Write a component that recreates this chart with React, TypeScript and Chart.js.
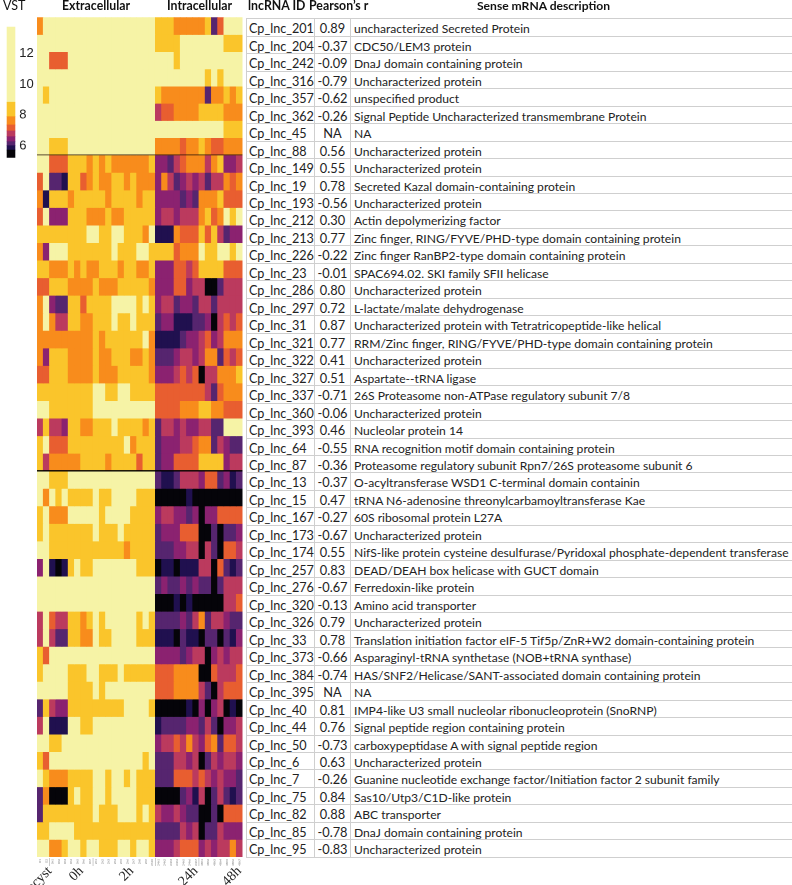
import React, { useEffect, useRef } from "react";
import { Chart, registerables } from "chart.js";

Chart.register(...registerables);

const lncIds = ["Cp_lnc_201","Cp_lnc_204","Cp_lnc_242","Cp_lnc_316","Cp_lnc_357","Cp_lnc_362","Cp_lnc_45","Cp_lnc_88","Cp_lnc_149","Cp_lnc_19","Cp_lnc_193","Cp_lnc_212","Cp_lnc_213","Cp_lnc_226","Cp_lnc_23","Cp_lnc_286","Cp_lnc_297","Cp_lnc_31","Cp_lnc_321","Cp_lnc_322","Cp_lnc_327","Cp_lnc_337","Cp_lnc_360","Cp_lnc_393","Cp_lnc_64","Cp_lnc_87","Cp_lnc_13","Cp_lnc_15","Cp_lnc_167","Cp_lnc_173","Cp_lnc_174","Cp_lnc_257","Cp_lnc_276","Cp_lnc_320","Cp_lnc_326","Cp_lnc_33","Cp_lnc_373","Cp_lnc_384","Cp_lnc_395","Cp_lnc_40","Cp_lnc_44","Cp_lnc_50","Cp_lnc_6","Cp_lnc_7","Cp_lnc_75","Cp_lnc_82","Cp_lnc_85","Cp_lnc_95"];
const pearson = ["0.89","-0.37","-0.09","-0.79","-0.62","-0.26","NA","0.56","0.55","0.78","-0.56","0.30","0.77","-0.22","-0.01","0.80","0.72","0.87","0.77","0.41","0.51","-0.71","-0.06","0.46","-0.55","-0.36","-0.37","0.47","-0.27","-0.67","0.55","0.83","-0.67","-0.13","0.79","0.78","-0.66","-0.74","NA","0.81","0.76","-0.73","0.63","-0.26","0.84","0.88","-0.78","-0.83"];
const descriptions = ["uncharacterized Secreted Protein","CDC50/LEM3 protein","DnaJ domain containing protein","Uncharacterized protein","unspecified product","Signal Peptide Uncharacterized transmembrane Protein","NA","Uncharacterized protein","Uncharacterized protein","Secreted Kazal domain-containing protein","Uncharacterized protein","Actin depolymerizing factor","Zinc finger, RING/FYVE/PHD-type domain containing protein","Zinc finger RanBP2-type domain containing protein","SPAC694.02. SKI family SFII helicase","Uncharacterized protein","L-lactate/malate dehydrogenase","Uncharacterized protein with Tetratricopeptide-like helical","RRM/Zinc finger, RING/FYVE/PHD-type domain containing protein","Uncharacterized protein","Aspartate--tRNA ligase","26S Proteasome non-ATPase regulatory subunit 7/8","Uncharacterized protein","Nucleolar protein 14","RNA recognition motif domain containing protein","Proteasome regulatory subunit Rpn7/26S proteasome subunit 6","O-acyltransferase WSD1 C-terminal domain containin","tRNA N6-adenosine threonylcarbamoyltransferase Kae","60S ribosomal protein L27A","Uncharacterized protein","NifS-like protein cysteine desulfurase/Pyridoxal phosphate-dependent transferase","DEAD/DEAH box helicase with GUCT domain","Ferredoxin-like protein","Amino acid transporter","Uncharacterized protein","Translation initiation factor eIF-5 Tif5p/ZnR+W2 domain-containing protein","Asparaginyl-tRNA synthetase (NOB+tRNA synthase)","HAS/SNF2/Helicase/SANT-associated domain containing protein","NA","IMP4-like U3 small nucleolar ribonucleoprotein (SnoRNP)","Signal peptide region containing protein","carboxypeptidase A with signal peptide region","Uncharacterized protein","Guanine nucleotide exchange factor/Initiation factor 2 subunit family","Sas10/Utp3/C1D-like protein","ABC transporter","DnaJ domain containing protein","Uncharacterized protein"];

// one digit per cell: colour bin of the VST value, 0 = lowest, 8 = highest
const block1 = [
  "6888888888888888888 77766666725888",
  "8888888888888888888 77778888888777",
  "8855588888888888888 88878888888888",
  "8888888888888888888 88888888787888",
  "8788888888888888888 76666666266767",
  "8888888888888888888 45566667777666",
  "8888888888888888888 88888888888777",
  "8877788888888888888 66665667655666",
];
const block2 = [
  "8855577767676666667 33245666467334",
  "5822177567667767666 36423434244656",
  "6177767777767777677 33332326667555",
  "5833377766676677777 34434446756878",
  "7777777788778877768 11165557574233",
  "6388877777778777887 77756668778878",
  "7766676766777677667 33355457777555",
  "5577766667666777776 33355344002444",
  "6832277577778888787 34423324424444",
  "6864477667778778777 23311122304545",
  "6666666667677777786 11112334534666",
  "6377766667667776676 22234434662545",
  "5577766667666777776 33345450446667",
  "7777777778877887777 55555555425666",
  "8877777778888888888 55556667766555",
  "4744377667778777767 24434334422888",
  "7855577777777786777 23334456624322",
  "7466666777767777577 23355557777344",
];
const block3 = [
  "8877788888888888888 21124443552312",
  "8687877778778888777 00000100000000",
  "7866688888788887777 34433230335555",
  "7877777778777877777 23335550020223",
  "8877777777777767777 22233440420554",
  "3810178778888888777 01101114405212",
  "8888888888888888888 23223232202444",
  "8888888888888888888 00010100000445",
  "4854477678788888787 22223246244322",
  "4842277668778888777 11102110220213",
  "7588888888888888888 33332344034344",
  "7888877788777877777 55566660054445",
  "8888877778788888888 55566664204555",
  "2743377777777788887 00000103034010",
  "4811188778888888888 12222332420334",
  "8877888888888888888 34454643562554",
  "7588888888888888878 22244340243443",
  "8766677778878878777 22255545434332",
  "2600078778878888777 00002314024212",
  "2777777778777888787 43343220020555",
  "7788887777777777777 22224340224333",
  "8866788788777887887 33345553434464",
];

const groupLabels = ["Oocyst", "0h", "2h", "24h", "48h"];
const columnLabels = [
  "O1","O2","0h1","0h2","0h3","0h4","0h5","0h6","0h7",
  "2h1","2h2","2h3","2h4","2h5","2h6","2h7","2h8","2h9","2h10",
  "24h1","24h2","24h3","24h4","24h5","24h6","24h7",
  "48h1","48h2","48h3","48h4","48h5","48h6","48h7",
];
const binColors = ["#050409","#20104f","#56256f","#8b2270","#bb3a5e","#e85e30","#f88c1c","#fac52b","#f6f3a6"];
const binEdges = [5.22, 5.72, 6.0, 6.26, 6.59, 6.96, 7.35, 7.89, 8.83, 13.75];

const blocks = [block1, block2, block3];
const blockRowUnits = [17.2, 17.55, 17.55];

const FONT = "Lato, sans-serif";
const TABLE_TOP = 18.3;
const ROW_H = 17.48;

function buildDatasets() {
  const out: any[] = [];
  let y = 0;
  blocks.forEach((rows, b) => {
    rows.forEach((row) => {
      const cells = row.replace(" ", "").split("").map(Number);
      const top = y;
      const bottom = y + blockRowUnits[b];
      out.push({
        data: cells.map(() => [top, bottom]),
        backgroundColor: cells.map((c) => binColors[c]),
        borderWidth: 0,
        grouped: false,
        barPercentage: 1,
        categoryPercentage: 1,
      });
      y = bottom;
    });
  });
  return { datasets: out, total: y };
}

const heatDecor = {
  id: "heatDecor",
  afterDatasetsDraw(chart: any) {
    const { ctx, chartArea: a, scales } = chart;
    const yS = scales.y;
    const xS = scales.x;
    ctx.save();
    // block separators
    const b1 = block1.length * blockRowUnits[0];
    const b2 = b1 + block2.length * blockRowUnits[1];
    ctx.strokeStyle = "rgba(40,20,10,0.75)";
    ctx.lineWidth = 1;
    ctx.beginPath();
    ctx.moveTo(a.left, yS.getPixelForValue(b1));
    ctx.lineTo(a.right, yS.getPixelForValue(b1));
    ctx.stroke();
    ctx.strokeStyle = "#000";
    ctx.lineWidth = 1.4;
    ctx.beginPath();
    ctx.moveTo(a.left, yS.getPixelForValue(b2));
    ctx.lineTo(a.right, yS.getPixelForValue(b2));
    ctx.stroke();
    // group separators below the matrix
    const half = (xS.getPixelForValue(1) - xS.getPixelForValue(0)) / 2;
    ctx.strokeStyle = "#aaa";
    ctx.lineWidth = 0.6;
    [2, 9, 19, 26].forEach((c) => {
      const px = xS.getPixelForValue(c) - half;
      ctx.beginPath();
      ctx.moveTo(px, a.bottom + 1);
      ctx.lineTo(px, a.bottom + 9);
      ctx.stroke();
    });
    // group labels, anchored at their upper-right end in column units
    const perCol = xS.getPixelForValue(1) - xS.getPixelForValue(0);
    const anchors = [1.56, 6.63, 14.7, 25, 32];
    ctx.fillStyle = "#222";
    ctx.font = "14px 'Liberation Serif', serif";
    ctx.textAlign = "right";
    ctx.textBaseline = "middle";
    groupLabels.forEach((g, i) => {
      const px = xS.getPixelForValue(0) + anchors[i] * perCol;
      ctx.save();
      ctx.translate(px, a.bottom + 12);
      ctx.rotate(-Math.PI / 4);
      ctx.fillText(g, 0, 0);
      ctx.restore();
    });
    ctx.restore();
  },
};

export default function App() {
  const heatRef = useRef<HTMLCanvasElement>(null);
  const barRef = useRef<HTMLCanvasElement>(null);

  useEffect(() => {
    const { datasets, total } = buildDatasets();
    const heat = new Chart(heatRef.current as HTMLCanvasElement, {
      type: "bar",
      data: { labels: columnLabels, datasets },
      plugins: [heatDecor],
      options: {
        responsive: false,
        animation: false,
        devicePixelRatio: 2,
        layout: { padding: { left: 37, top: 17.3, right: 0, bottom: 18 } },
        plugins: { legend: { display: false }, tooltip: { enabled: false } },
        scales: {
          x: {
            type: "category",
            offset: true,
            grid: { display: false, drawTicks: false },
            border: { display: false },
            afterFit: (s: any) => { s.height = 10; },
            ticks: {
              font: { size: 3, family: FONT },
              color: "#777",
              minRotation: 90,
              maxRotation: 90,
              autoSkip: false,
              padding: 2,
            },
          },
          y: { display: false, reverse: true, min: 0, max: total },
        },
      },
    } as any);

    const barLevels = binColors.map((_, i) => [binEdges[i], binEdges[i + 1]]);
    const bar = new Chart(barRef.current as HTMLCanvasElement, {
      type: "bar",
      data: {
        labels: ["VST"],
        datasets: barLevels.map((lv, i) => ({
          data: [lv],
          backgroundColor: binColors[i],
          borderWidth: 0,
          grouped: false,
          barPercentage: 1,
          categoryPercentage: 1,
        })),
      },
      options: {
        responsive: false,
        animation: false,
        devicePixelRatio: 2,
        layout: { padding: { left: 6.7, top: 26.7, right: 0, bottom: 12.3 } },
        plugins: { legend: { display: false }, tooltip: { enabled: false } },
        scales: {
          x: { display: false },
          y: {
            position: "right",
            min: binEdges[0],
            max: binEdges[binEdges.length - 1],
            grid: { display: false, drawTicks: false },
            border: { display: false },
            afterFit: (s: any) => { s.width = 24.7; },
            afterBuildTicks: (s: any) => {
              s.ticks = [6, 8, 10, 12].map((v) => ({ value: v }));
            },
            ticks: {
              font: { size: 13, family: "'Liberation Sans', sans-serif" },
              color: "#222",
              padding: 4,
            },
          },
        },
      },
    } as any);
    return () => {
      heat.destroy();
      bar.destroy();
    };
  }, []);

  const head = (text: string, left: number, size = 12.3, bold = true) => (
    <div
      style={{
        position: "absolute",
        left,
        top: -2,
        font: `${bold ? 700 : 400} ${size}px ${FONT}`,
        lineHeight: "15px",
        color: "#111",
        whiteSpace: "nowrap",
      }}
    >
      {text}
    </div>
  );

  const cell = (w: number, text: string, align: "left" | "center", extra: any = {}) => (
    <div
      style={{
        width: w,
        flex: "none",
        boxSizing: "border-box",
        height: "100%",
        borderRight: "1px solid #cfcfcf",
        textAlign: align,
        paddingLeft: align === "left" ? 3 : 0,
        whiteSpace: "nowrap",
        overflow: "hidden",
        ...extra,
      }}
    >
      {text}
    </div>
  );

  return (
    <div style={{ position: "absolute", left: 0, top: 0, width: 792, height: 885, overflow: "hidden", background: "#fff" }}>
      <canvas ref={heatRef} width={245.5} height={885} style={{ position: "absolute", left: 0, top: 0 }} />
      <canvas ref={barRef} width={40} height={170} style={{ position: "absolute", left: 0, top: 0 }} />
      {head("VST", 3, 12.5, false)}
      {head("Extracellular", 62)}
      {head("Intracellular", 167)}
      {head("lncRNA ID", 248)}
      {head("Pearson\u2019s r", 309, 12.3)}
      {head("Sense mRNA description", 477, 12.1)}
      <div
        style={{
          position: "absolute",
          left: 246,
          top: TABLE_TOP,
          width: 546,
          borderTop: "1px solid #cfcfcf",
          borderLeft: "1px solid #cfcfcf",
          font: `400 12.1px ${FONT}`,
          color: "#222",
        }}
      >
        {lncIds.map((id, i) => (
          <div
            key={id}
            style={{
              display: "flex",
              height: ROW_H,
              boxSizing: "border-box",
              borderBottom: "1px solid #cfcfcf",
              lineHeight: `${ROW_H + 2}px`,
            }}
          >
            {cell(68, id, "left", { fontSize: 12.6, paddingLeft: 2 })}
            {cell(36, pearson[i], "center", { fontSize: 12.8 })}
            {cell(441, descriptions[i], "left", { borderRight: "none" })}
          </div>
        ))}
      </div>
    </div>
  );
}
